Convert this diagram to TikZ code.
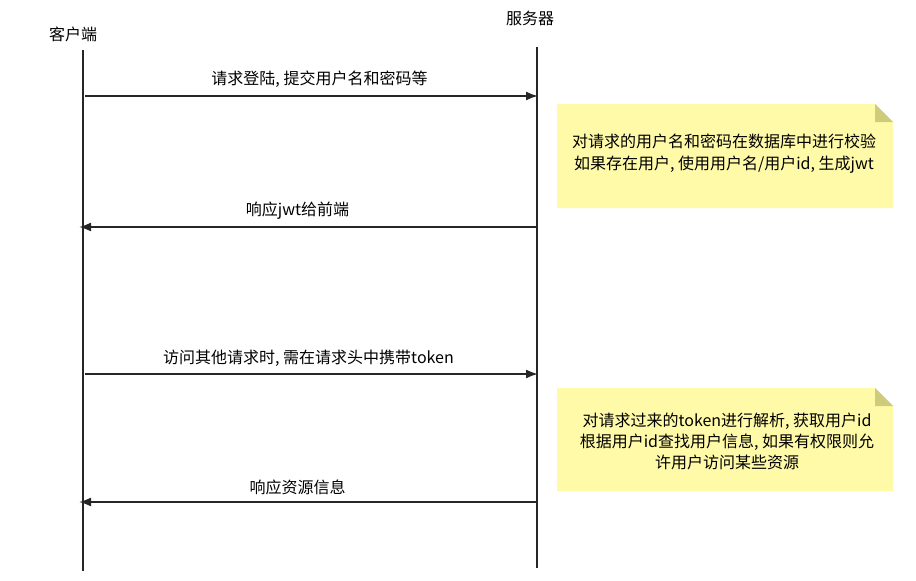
\documentclass[tikz,border=0pt]{standalone}
\usepackage{fontspec}
\setmainfont{Noto Sans CJK SC}
\usetikzlibrary{arrows.meta}
\definecolor{notefill}{RGB}{255,250,168}
\definecolor{notefold}{RGB}{206,203,122}
\definecolor{linegray}{RGB}{38,38,38}
\begin{document}
\begin{tikzpicture}[x=1pt,y=-1pt,font=\fontsize{16}{22}\selectfont,
    lifeline/.style={draw=linegray,line width=1.8pt},
    msg/.style={draw=linegray,line width=1.8pt,-{Latex[length=12pt,width=9pt]}},
    note/.style={fill=notefill,draw=none}]
                \useasboundingbox (0,0) rectangle (916,581);
                \node (client) at (73,34) {客户端}; \node (server) at (530,18) {服务器};
                \coordinate (ctop) at (83,50); \coordinate (cbot) at (83,571);
                \coordinate (stop) at (537,47); \coordinate (sbot) at (537,568);
                \draw[lifeline] (ctop) to (cbot); \draw[lifeline] (stop) to (sbot);

                \coordinate (c1) at (85,96); \coordinate (s1) at (538,96);
                \coordinate (c2) at (79,227); \coordinate (s2) at (536,227);
                \coordinate (c3) at (85,374); \coordinate (s3) at (538,374);
                \coordinate (c4) at (79,502); \coordinate (s4) at (536,502);

                \draw[msg] (c1) to node[above=4pt,xshift=8pt] (m1) {请求登陆, 提交用户名和密码等} (s1);
                \draw[msg] (s2) to node[above=3pt,xshift=-10pt] (m2) {响应jwt给前端} (c2);
                \draw[msg] (c3) to node[above=3pt,xshift=-3pt] (m3) {访问其他请求时, 需在请求头中携带token} (s3);
                \draw[msg] (s4) to node[above=3pt,xshift=-10pt] (m4) {响应资源信息} (c4);

                % notes on the server side
                \fill[note] (557,104) -- (875,104) -- (893,122) -- (893,208) -- (557,208) -- cycle;
                \fill[notefold] (875,104) -- (893,122) -- (875,122) -- cycle;
                \node[align=center] (note1) at (724,154) {对请求的用户名和密码在数据库中进行校验\\如果存在用户, 使用用户名/用户id, 生成jwt};
                \fill[note] (557,388) -- (875,388) -- (893,406) -- (893,491) -- (557,491) -- cycle;
                \fill[notefold] (875,388) -- (893,406) -- (875,406) -- cycle;
                \node[align=center,font=\fontsize{16}{21}\selectfont] (note2) at (727,441) {对请求过来的token进行解析, 获取用户id\\根据用户id查找用户信息, 如果有权限则允\\许用户访问某些资源};
            \end{tikzpicture}
\end{document}
